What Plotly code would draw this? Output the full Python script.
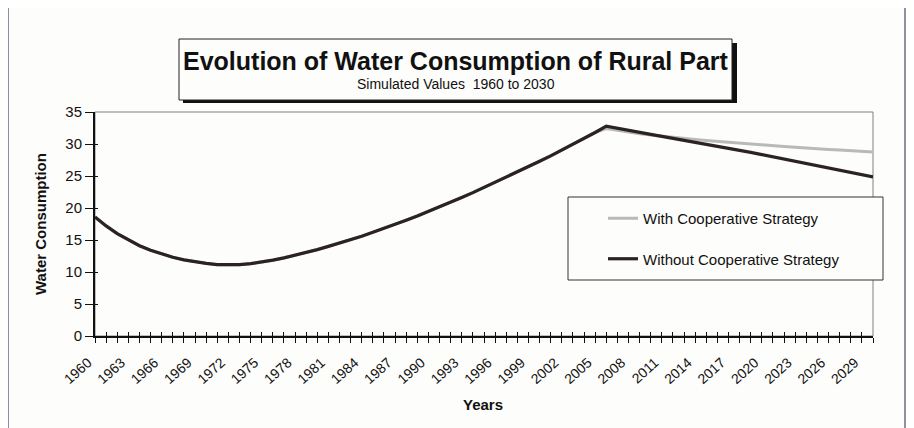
import plotly.graph_objects as go

years = list(range(1960, 2031))

without_coop = [
    18.6, 17.2, 16.0, 15.0, 14.1, 13.4, 12.8, 12.3, 11.9, 11.6,
    11.35, 11.15, 11.1, 11.15, 11.3, 11.55, 11.85, 12.2, 12.6, 13.05,
    13.5, 14.0, 14.5, 15.05, 15.6, 16.2, 16.8, 17.45, 18.1, 18.75,
    19.45, 20.15, 20.9, 21.65, 22.4, 23.2, 24.0, 24.8, 25.6, 26.45,
    27.3, 28.15, 29.05, 29.95, 30.85, 31.8, 32.8, 32.45, 32.1, 31.8,
    31.5, 31.2, 30.9, 30.6, 30.3, 30.0, 29.7, 29.4, 29.05, 28.7,
    28.35, 28.0, 27.65, 27.3, 26.95, 26.6, 26.25, 25.9, 25.55, 25.2,
    24.85,
]

with_coop = [
    18.6, 17.2, 16.0, 15.0, 14.1, 13.4, 12.8, 12.3, 11.9, 11.6,
    11.35, 11.15, 11.1, 11.15, 11.3, 11.55, 11.85, 12.2, 12.6, 13.05,
    13.5, 14.0, 14.5, 15.05, 15.6, 16.2, 16.8, 17.45, 18.1, 18.75,
    19.45, 20.15, 20.9, 21.65, 22.4, 23.2, 24.0, 24.8, 25.6, 26.45,
    27.3, 28.15, 29.05, 29.95, 30.85, 31.8, 32.4, 32.1, 31.85, 31.6,
    31.4, 31.2, 31.0, 30.85, 30.7, 30.55, 30.4, 30.25, 30.1, 29.95,
    29.8, 29.7, 29.6, 29.5, 29.35, 29.25, 29.15, 29.05, 28.95, 28.85,
    28.75,
]

tick_text = [str(y) if (y - 1960) % 3 == 0 else "" for y in years]
y_ticks = [0, 5, 10, 15, 20, 25, 30, 35]

title = "Evolution of Water Consumption of Rural Part"
subtitle = "Simulated Values  1960 to 2030"
x_title = "Years"
y_title = "Water Consumption"
names = ["With Cooperative Strategy", "Without Cooperative Strategy"]

FONT = "Liberation Sans, Arial, sans-serif"

fig = go.Figure()
fig.add_trace(go.Scatter(x=years, y=with_coop, mode="lines", name=names[0],
                         line=dict(color="#b9b9b7", width=3), legendgroup="a"))
fig.add_trace(go.Scatter(x=years, y=without_coop, mode="lines", name=names[1],
                         line=dict(color="#2b2222", width=3.2), legendgroup="b",
                         xaxis="x2", yaxis="y2"))

# page body has an 8px margin; figure is shrunk so the picture lands where intended
O = 8
W, H = 914 - O, 428 - O
L, T = 95 - O, 112 - O
R = W - (873 - O)
B = H - (336 - O)
pw, ph = W - L - R, H - T - B


def px(x):
    return (x - O - L) / pw


def py(y):
    return (H - B - (y - O)) / ph


shapes = [
    dict(type="rect", xref="paper", yref="paper", x0=px(8), x1=px(905), y0=py(440), y1=py(7),
         line=dict(color="#6e6a82", width=1.5), layer="below"),
    dict(type="rect", xref="paper", yref="paper", x0=0, x1=1, y0=0, y1=1,
         line=dict(color="#808080", width=1), layer="below"),
    dict(type="rect", xref="paper", yref="paper", x0=px(183), x1=px(737), y0=py(103), y1=py(43),
         line=dict(color="#111111", width=0), fillcolor="#111111"),
    dict(type="rect", xref="paper", yref="paper", x0=px(179), x1=px(732), y0=py(100), y1=py(39),
         line=dict(color="#222222", width=1), fillcolor="#fdfdfb"),
    dict(type="rect", xref="paper", yref="paper", x0=px(568), x1=px(883), y0=py(280), y1=py(197),
         line=dict(color="#333333", width=1), fillcolor="#fdfdfb", layer="below"),
]

annotations = [
    dict(text="<b>" + title + "</b>", xref="paper", yref="paper", x=px(456), y=py(61),
         showarrow=False, font=dict(family=FONT, size=25, color="#111111"),
         xanchor="center", yanchor="middle"),
    dict(text=subtitle, xref="paper", yref="paper", x=px(456), y=py(84),
         showarrow=False, font=dict(family=FONT, size=14, color="#111111"),
         xanchor="center", yanchor="middle"),
    dict(text="<b>" + x_title + "</b>", xref="paper", yref="paper", x=px(483), y=py(404),
         showarrow=False, font=dict(family=FONT, size=15, color="#111111"),
         xanchor="center", yanchor="middle"),
    dict(text="<b>" + y_title + "</b>", xref="paper", yref="paper", x=px(40), y=0.5,
         showarrow=False, textangle=-90, font=dict(family=FONT, size=15, color="#111111"),
         xanchor="center", yanchor="middle"),
]

fig.update_layout(
    width=W, height=H,
    margin=dict(l=L, r=R, t=T, b=B),
    paper_bgcolor="#fdfdfb", plot_bgcolor="#fdfdfb",
    font=dict(family=FONT, color="#111111"),
    showlegend=True,
    legend=dict(x=px(603), y=py(202), xanchor="left", yanchor="top",
                bgcolor="rgba(0,0,0,0)", borderwidth=0,
                font=dict(family=FONT, size=15, color="#111111"),
                tracegroupgap=18),
    shapes=shapes,
    annotations=annotations,
    xaxis=dict(range=[1960, 2030], tickmode="array", tickvals=years, ticktext=tick_text,
               tickangle=-42, ticks="outside", ticklen=5, tickwidth=1.3, tickcolor="#111111",
               ticklabelstandoff=6, ticklabelshift=-7,
               showline=True, linecolor="#111111", linewidth=2, showgrid=False, zeroline=False,
               tickfont=dict(family=FONT, size=14, color="#111111")),
    yaxis=dict(range=[0, 35], tickmode="array", tickvals=y_ticks, ticks="outside", ticklen=8,
               tickwidth=1.3, tickcolor="#111111", showline=True, linecolor="#111111",
               linewidth=2, showgrid=False, zeroline=False,
               tickfont=dict(family=FONT, size=15, color="#111111")),
    xaxis2=dict(overlaying="x", range=[1960, 2030], tickmode="array", tickvals=years,
                ticks="inside", ticklen=4, tickwidth=1.3, tickcolor="#111111",
                side="bottom", anchor="y2",
                showticklabels=False, showline=False, showgrid=False, zeroline=False),
    yaxis2=dict(overlaying="y", range=[0, 35], tickmode="array", tickvals=y_ticks,
                ticks="inside", ticklen=3, tickwidth=1.3, tickcolor="#111111",
                side="left", anchor="x2",
                showticklabels=False, showline=False, showgrid=False, zeroline=False),
)

fig.write_html("out.html")
